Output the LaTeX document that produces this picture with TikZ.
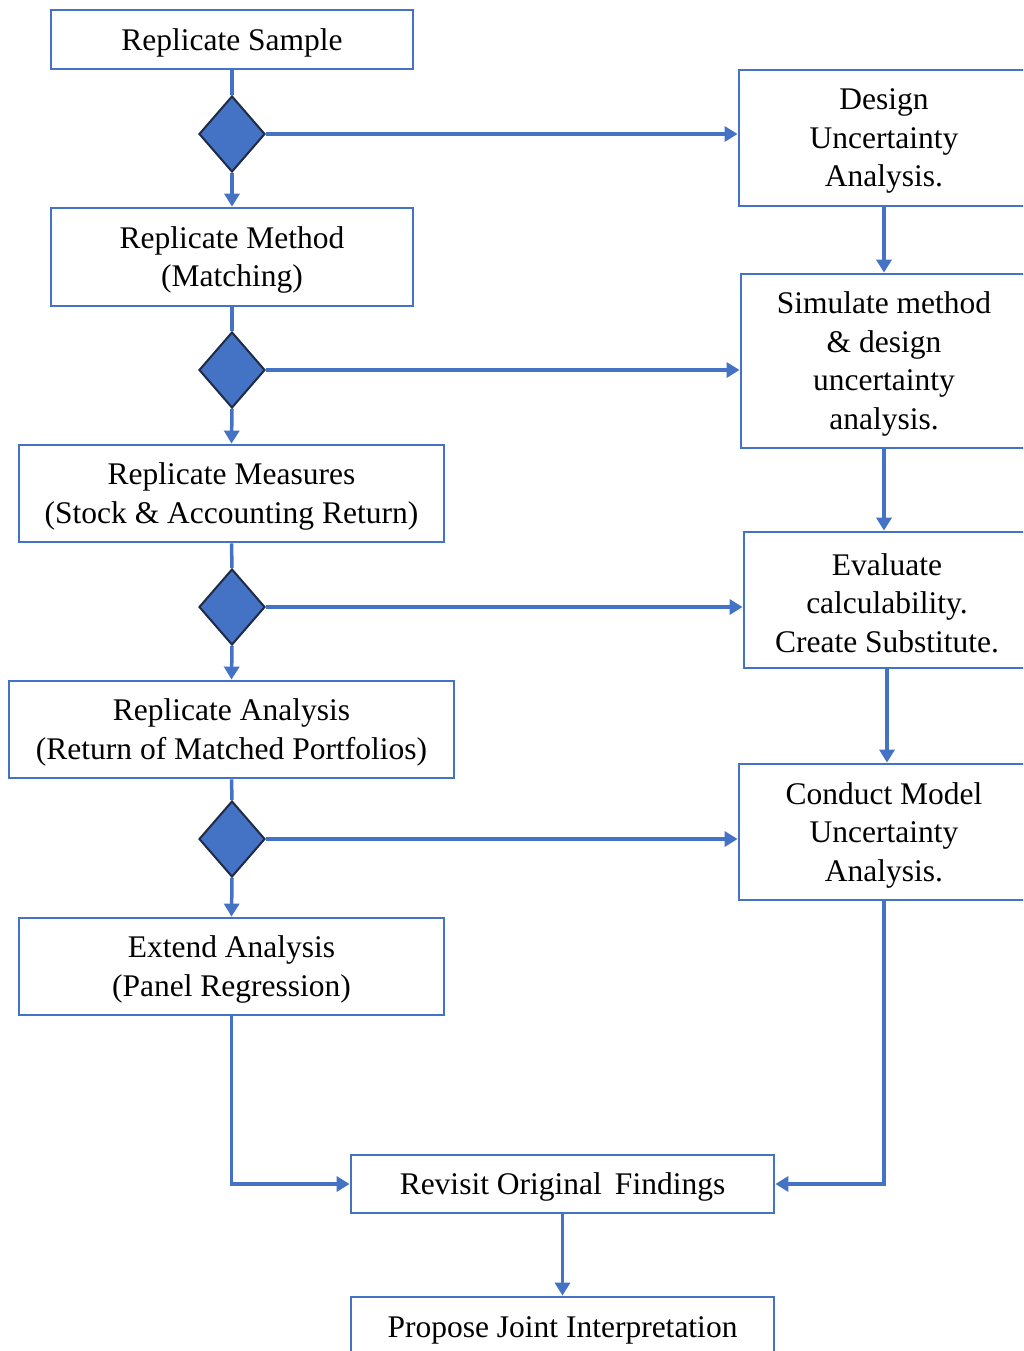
\documentclass[tikz,border=0pt]{standalone}
\usepackage{fontspec}
\setmainfont{Liberation Serif}
\usetikzlibrary{shapes.geometric,arrows.meta,calc}
\definecolor{blueA}{HTML}{4472C4}
\definecolor{darkA}{HTML}{1F2A44}
\begin{document}
\begin{tikzpicture}[x=1pt,y=-1pt,
  box/.style={draw=blueA, line width=2.8pt, inner sep=0pt},
  txt/.style={align=center, inner sep=0pt, yshift=-3pt,
    font=\fontsize{31.5}{38.5}\selectfont, text=black},
  dia/.style={diamond, fill=blueA, draw=darkA, line width=2pt, inner sep=0pt,
    minimum width=66pt, minimum height=76pt},
  conn/.style={draw=blueA, line width=3.5pt},
  arr/.style={conn, -{Triangle[length=13pt,width=15pt]}}]
\useasboundingbox (0,0) rectangle (1023,1351);
\clip (0,0) rectangle (1023,1351);
% left column
\node[box, minimum width=362pt, minimum height=59pt, label={[txt]center:{Replicate Sample}}] (s1) at (232,39.5) {};
\node[dia] (d1) at (232,134) {};
\node[box, minimum width=362pt, minimum height=98pt, label={[txt]center:{Replicate Method\\(Matching)}}] (m) at (232,257) {};
\node[dia] (d2) at (232,370) {};
\node[box, minimum width=425pt, minimum height=97pt, label={[txt]center:{Replicate Measures\\(Stock \& Accounting Return)}}] (meas) at (231.5,493.5) {};
\node[dia] (d3) at (232,607) {};
\node[box, minimum width=445pt, minimum height=97pt, label={[txt]center:{Replicate Analysis\\(Return of Matched Portfolios)}}] (ana) at (231.5,729.5) {};
\node[dia] (d4) at (232,839) {};
\node[box, minimum width=425pt, minimum height=97pt, label={[txt]center:{Extend Analysis\\(Panel Regression)}}] (ext) at (231.5,966.5) {};
% bottom
\node[box, minimum width=423pt, minimum height=58pt, label={[txt]center:{Revisit Original\, Findings}}] (rev) at (562.5,1184) {};
\node[box, minimum width=423pt, minimum height=60pt, label={[txt]center:{Propose Joint Interpretation}}] (prop) at (562.5,1327) {};
% right column
\node[box, minimum width=290pt, minimum height=136pt, label={[txt]center:{Design\\Uncertainty\\Analysis.}}] (des) at (884,138) {};
\node[box, minimum width=286pt, minimum height=174pt, label={[txt]center:{Simulate method\\\& design\\uncertainty\\analysis.}}] (sim) at (884,361) {};
\node[box, minimum width=286pt, minimum height=136pt, label={[txt]center:{Evaluate\\calculability.\\Create Substitute.}}] (eva) at (887,600) {};
\node[box, minimum width=290pt, minimum height=136pt, label={[txt]center:{Conduct Model\\Uncertainty\\Analysis.}}] (con) at (884,832) {};
% connectors left
\draw[conn] (s1.south) -- (d1.north);
\draw[arr] (d1.south) -- (m.north);
\draw[conn] (m.south) -- (d2.north);
\draw[arr] (d2.south) -- (meas.north);
\draw[conn] (meas.south) -- (d3.north);
\draw[arr] (d3.south) -- (ana.north);
\draw[conn] (ana.south) -- (d4.north);
\draw[arr] (d4.south) -- (ext.north);
% to right
\draw[arr] (d1.east) -- (d1.east -| des.west);
\draw[arr] (d2.east) -- (d2.east -| sim.west);
\draw[arr] (d3.east) -- (d3.east -| eva.west);
\draw[arr] (d4.east) -- (d4.east -| con.west);
% right column
\draw[arr] (des.south) -- (sim.north);
\draw[arr] (sim.south) -- (sim.south |- eva.north);
\draw[arr] (eva.south) -- (eva.south |- con.north);
\draw[arr] (con.south) |- (rev.east);
\draw[arr] (ext.south) |- (rev.west);
\draw[arr] (rev.south) -- (prop.north);
\end{tikzpicture}
\end{document}
